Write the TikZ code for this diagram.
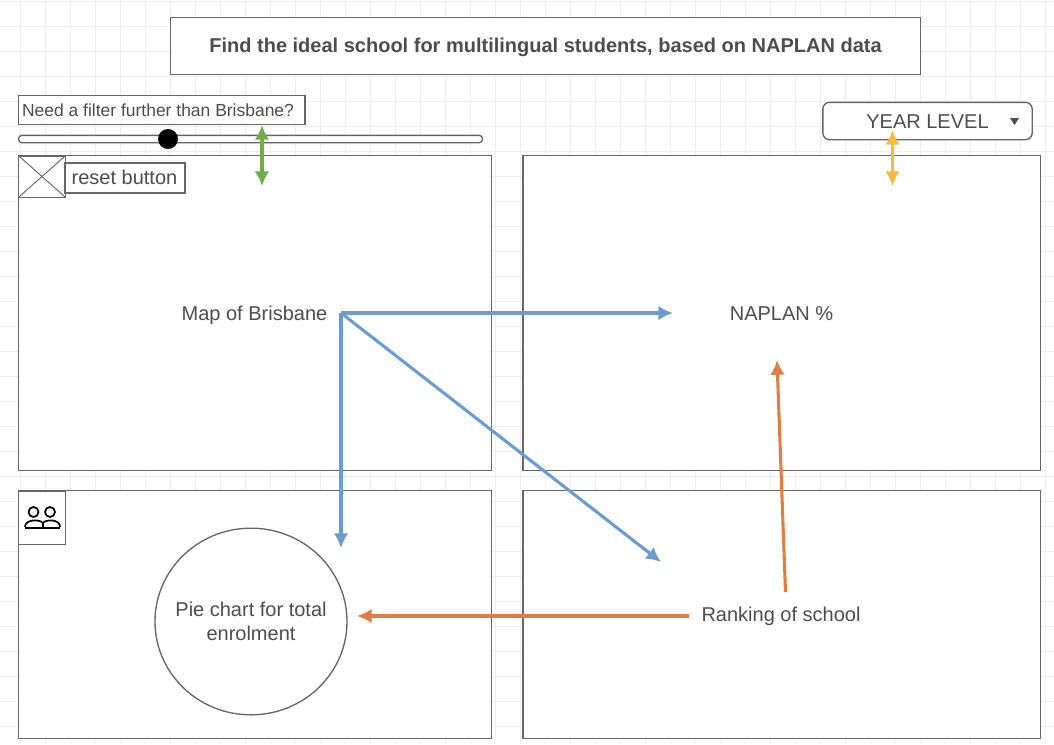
\documentclass[tikz,border=0pt]{standalone}
\usepackage{fontspec}
\setmainfont{Liberation Sans}
\usetikzlibrary{positioning,arrows.meta,shapes.geometric}
\tikzset{>=latex}
\definecolor{inkgray}{HTML}{4D4D4D}
\definecolor{linegray}{HTML}{666666}
\definecolor{gridgray}{HTML}{EFEFEF}
\definecolor{bluearrow}{HTML}{6C9BD2}
\definecolor{orangearrow}{HTML}{DD7E44}
\definecolor{greenarrow}{HTML}{70AD47}
\definecolor{yellowarrow}{HTML}{F4BE3C}
\tikzset{
  panel/.style={draw=linegray, fill=white, line width=1pt, minimum width=#1, inner sep=0pt, outer sep=0pt},
  labelbox/.style={draw=linegray, fill=white, line width=1pt, inner sep=0pt, outer sep=0pt, text=inkgray},
  plain/.style={text=inkgray, font=\fontsize{15}{18}\selectfont, inner sep=0pt, anchor=base},
  bluearr/.style={->, draw=bluearrow, line width=2.3pt, >={Latex[length=11pt,width=11pt]}},
  orangearr/.style={->, draw=orangearrow, line width=2.3pt, >={Latex[length=11pt,width=11pt]}},
  bothway/.style={<->, draw=#1, line width=2.3pt, >={Latex[length=11pt,width=11pt]}},
}
\begin{document}
\begin{tikzpicture}[x=0.75pt, y=-0.75pt]
      \useasboundingbox (0,0) rectangle (1054,744);
      \fill[white] (0,0) rectangle (1054,744);
      % background grid
      \foreach \gx in {20,45,...,1054} \draw[gridgray, line width=0.7pt] (\gx,0) -- (\gx,744);
      \foreach \gy in {1,26,...,744} \draw[gridgray, line width=0.7pt] (0,\gy) -- (1054,\gy);

      \node[labelbox, minimum width=562.5pt, minimum height=43pt] (title) at (545.5,46) {};
      \node[plain, font=\bfseries\fontsize{15}{18}\selectfont] (titletext) at (545.5,52) {Find the ideal school for multilingual students, based on NAPLAN data};

      % panels
      \node[panel=354.75pt, minimum height=236.25pt] (mappanel) at (255,313) {};
      \node[panel=388pt, minimum height=236.25pt] (naplanpanel) at (781.5,313) {};
      \node[panel=354.75pt, minimum height=186pt] (piepanel) at (255,614.5) {};
      \node[panel=388pt, minimum height=186pt] (rankpanel) at (781.5,614.5) {};

      % slider
      \node[draw=linegray, line width=1pt, fill=white, rounded corners=2.5pt, minimum width=348pt, minimum height=5.5pt, inner sep=0pt] (slider) at (250.5,139) {};
      \node[circle, fill=black, minimum size=15pt, inner sep=0pt] (knob) at (168,139) {};
      \node[labelbox, minimum width=215pt, minimum height=22pt] (filter) at (161.5,110) {};
      \node[plain, font=\fontsize{13.1}{16}\selectfont] (filtertext) at (158,116) {Need a filter further than Brisbane?};

      % year level
      \node[draw=linegray, fill=white, line width=1pt, rounded corners=5pt, minimum width=157pt, minimum height=28pt, inner sep=0pt] (year) at (927.5,121) {};
      \node[plain] (yeartext) at (927.5,128) {YEAR LEVEL};
      \fill[inkgray] (1010,118) -- (1019,118) -- (1014.5,125) -- cycle;

      % reset button
      \node[labelbox, minimum width=35pt, minimum height=31pt] (cross) at (42,176.5) {};
      \draw[linegray, line width=0.7pt] (cross.north west) -- (cross.south east);
      \draw[linegray, line width=0.7pt] (cross.south west) -- (cross.north east);
      \node[labelbox, minimum width=90pt, minimum height=22.5pt] (reset) at (125,178) {};
      \node[plain] (resettext) at (124.5,184) {reset button};

      % people icon
      \node[draw=linegray, fill=white, line width=1pt, minimum width=35pt, minimum height=40pt, inner sep=0pt] (iconbox) at (42,517.5) {};
      \draw[black, line width=1.3pt] (33.5,512) circle (5);
      \draw[black, line width=1.3pt] (50,512) circle (5);
      \draw[black, line width=1.3pt] (25,527) .. controls (25,519) and (40,519) .. (43,523);
      \draw[black, line width=1.3pt] (43,527) -- (43,523) .. controls (46,519) and (60,519) .. (60,527);
      \draw[black, line width=1.7pt] (25,528) -- (60,528);

      % pie
      \node[ellipse, draw=linegray, fill=white, line width=1pt, minimum width=144pt, minimum height=140pt, inner sep=0pt] (pie) at (251,621.5) {};
      \node[align=center, text=inkgray, inner sep=0pt, font=\fontsize{15}{18}\selectfont] (pietext) at (pie.center) {Pie chart for total\\enrolment};

      % labels
      \node[plain] (maplabel) at (254.5,320) {Map of Brisbane};
      \node[plain] (naplanlabel) at (781.5,320) {NAPLAN \%};
      \node[plain] (ranklabel) at (781,621) {Ranking of school};

      \coordinate (mapstart) at (341,313);
      \coordinate (naplanend) at (673,313);
      \coordinate (pieend) at (341,548);
      \coordinate (rankend) at (661,562);
      \coordinate (rankstart) at (689,616);
      \coordinate (rankup) at (785.5,592);
      \coordinate (naplanup) at (777,360);
      \coordinate (pieright) at (357,616);

      \draw[bluearr] (mapstart) -- (naplanend);
      \draw[bluearr] (mapstart) -- (pieend);
      \draw[bluearr] (mapstart) -- (rankend);
      \draw[orangearr] (rankstart) -- (pieright);
      \draw[orangearr] (rankup) -- (naplanup);

      \coordinate (greentop) at (262,125);
      \coordinate (greenbot) at (262,186);
      \coordinate (yellowtop) at (892.5,130);
      \coordinate (yellowbot) at (892.5,186);
      \draw[bothway=greenarrow] (greentop) -- (greenbot);
      \draw[bothway=yellowarrow] (yellowtop) -- (yellowbot);
    \end{tikzpicture}
\end{document}
